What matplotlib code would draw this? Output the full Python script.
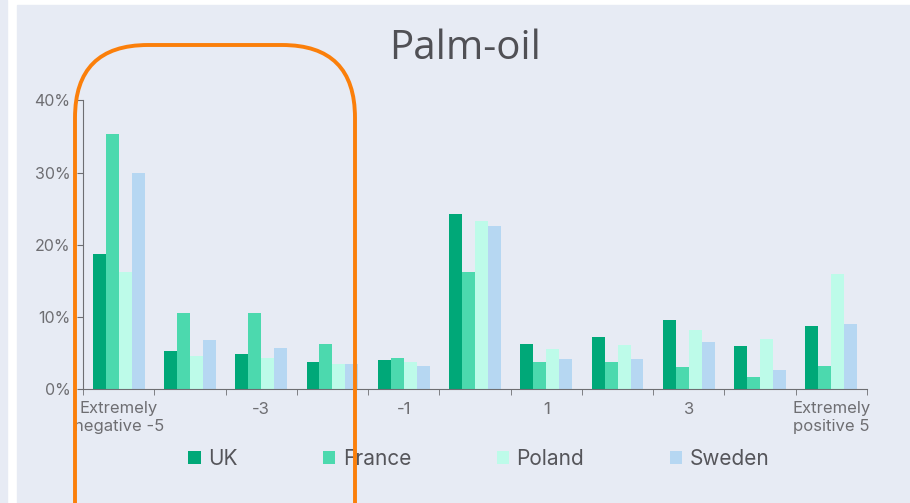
import numpy as np
import matplotlib.pyplot as plt
from matplotlib.patches import Rectangle, FancyBboxPatch
from matplotlib.ticker import PercentFormatter

# categories -5 .. 5
categories = ["-5", "-4", "-3", "-2", "-1", "0", "1", "2", "3", "4", "5"]
tick_labels = ["Extremely\nnegative -5", "-3", "-1", "1", "3", "Extremely\npositive 5"]
countries = ["UK", "France", "Poland", "Sweden"]
uk = [18.7, 5.3, 4.9, 3.7, 4.0, 24.2, 6.2, 7.2, 9.5, 6.0, 8.8]
france = [35.3, 10.6, 10.6, 6.2, 4.3, 16.2, 3.7, 3.7, 3.0, 1.6, 3.2]
poland = [16.2, 4.6, 4.3, 3.5, 3.8, 23.3, 5.5, 6.1, 8.2, 6.9, 16.0]
sweden = [30.0, 6.8, 5.7, 3.4, 3.2, 22.6, 4.2, 4.2, 6.5, 2.7, 9.0]
colors = ["#00a878", "#4cd9ae", "#bdfbe9", "#b6d7f2"]

bg = "#e7ebf4"
grey = "#6e6e72"

fig = plt.figure(figsize=(9.1, 5.03), dpi=100, facecolor="white")
# panel backgrounds
fig.patches.append(Rectangle((0, 0), 7 / 910, 1, transform=fig.transFigure, color=bg, zorder=-10))
fig.patches.append(Rectangle((17 / 910, 0), 1, 1 - 5 / 503, transform=fig.transFigure, color=bg, zorder=-10))

ax = fig.add_axes([83 / 910, 1 - 389 / 503, 784 / 910, 288.5 / 503])
ax.set_facecolor(bg)

x = np.arange(len(categories)) + 0.5
w = 0.182
for i, (vals, name) in enumerate(zip([uk, france, poland, sweden], countries)):
    ax.bar(x + (i - 1.5) * w, np.array(vals) / 100, width=w, color=colors[i], label=name)

ax.set_xlim(0, len(categories))
ax.set_ylim(0, 0.4)
ax.set_yticks([0, 0.1, 0.2, 0.3, 0.4])
ax.yaxis.set_major_formatter(PercentFormatter(1.0, decimals=0))
ax.set_xticks(x[::2])
ax.set_xticklabels(tick_labels)
ax.set_xticks(np.arange(len(categories) + 1), minor=True)
ax.tick_params(axis="x", which="major", length=0, pad=9, labelsize=12, labelcolor=grey)
ax.tick_params(axis="x", which="minor", length=4, color=grey)
ax.tick_params(axis="y", length=4, color=grey, labelsize=11.5, labelcolor=grey, pad=5)
for s in ["top", "right"]:
    ax.spines[s].set_visible(False)
for s in ["left", "bottom"]:
    ax.spines[s].set_color(grey)

for t in ax.get_xticklabels() + ax.get_yticklabels():
    t.set_fontfamily("Inter")

fig.text(465 / 910, 1 - 59 / 503, "Palm-oil", ha="center", va="baseline",
         fontsize=29, color="#505055", fontfamily="Open Sans")

leg = fig.legend(loc="center", bbox_to_anchor=(0.526, 1 - 459 / 503), ncol=4,
                 frameon=False, handlelength=0.6, handleheight=0.6, handletextpad=0.35,
                 columnspacing=4.1, prop={"family": "Inter", "size": 15})
for t in leg.get_texts():
    t.set_color("#55555a")

# orange highlight box
box = FancyBboxPatch((75 / 910, -0.2), 280 / 910, 1 - 45 / 503 + 0.2,
                     boxstyle="round,pad=0,rounding_size=0.08", transform=fig.transFigure,
                     fill=False, edgecolor="#fb7f0a", linewidth=2.8, zorder=20,
                     mutation_aspect=910 / 503)
fig.patches.append(box)

fig.savefig("out.png", dpi=100, facecolor="white")
